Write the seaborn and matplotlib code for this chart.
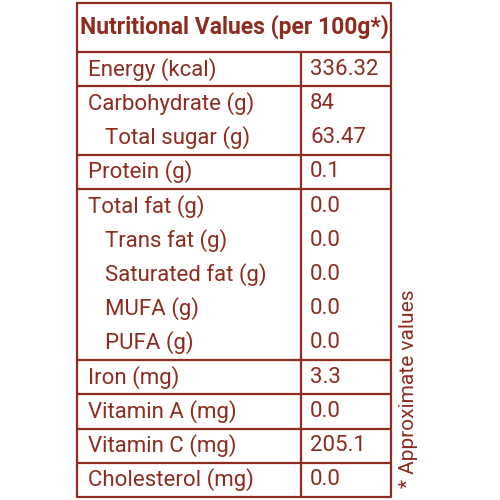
import matplotlib
matplotlib.use("Agg")
import matplotlib.pyplot as plt
import seaborn as sns
from matplotlib import font_manager

sns.set_theme(style="white")
names = {f.name for f in font_manager.fontManager.ttflist}
fam = "Liberation Sans Narrow" if "Liberation Sans Narrow" in names else "Roboto"
plt.rcParams['font.family'] = [fam, 'DejaVu Sans']

title = "Nutritional Values (per 100g*)"
labels = ["Energy (kcal)", "Carbohydrate (g)", "Total sugar (g)", "Protein (g)",
          "Total fat (g)", "Trans fat (g)", "Saturated fat (g)", "MUFA (g)", "PUFA (g)",
          "Iron (mg)", "Vitamin A (mg)", "Vitamin C (mg)", "Cholesterol (mg)"]
values = ["336.32", "84", "63.47", "0.1", "0.0", "0.0", "0.0", "0.0", "0.0",
          "3.3", "0.0", "205.1", "0.0"]
indent = [0, 0, 1, 0, 0, 1, 1, 1, 1, 0, 0, 0, 0]
group_end = [1, 0, 1, 1, 0, 0, 0, 0, 1, 1, 1, 1, 1]
note = "* Approximate values"

col = "#8e2c1f"
fig = plt.figure(figsize=(5, 5), dpi=100)
ax = fig.add_axes([0, 0, 1, 1])
ax.set_xlim(0, 500); ax.set_ylim(500, 0); ax.axis("off")

L, R, T, B, D = 77, 391, 3, 497, 301
H0 = 52
lw = 1.6
ax.plot([L, R, R, L, L], [T, T, B, B, T], color=col, lw=lw)
ax.plot([L, R], [H0, H0], color=col, lw=lw)
ax.plot([D, D], [H0, B], color=col, lw=lw)
ax.text((L + R) / 2, 27, title, ha="center", va="center", color=col,
        fontsize=16.5, fontweight="bold")

rowh = (B - H0) / len(labels)
for i, (lab, v) in enumerate(zip(labels, values)):
    yc = H0 + rowh * (i + 0.5)
    ax.text(L + 11 + 17 * indent[i], yc, lab, ha="left", va="center", color=col, fontsize=16)
    ax.text(D + 9, yc, v, ha="left", va="center", color=col, fontsize=16)
    if group_end[i] and i < len(labels) - 1:
        y = H0 + rowh * (i + 1)
        ax.plot([L, R], [y, y], color=col, lw=lw)

ax.text(408, 488, note, ha="center", va="bottom", rotation=90, color=col, fontsize=15)
fig.savefig("out.png", dpi=100)
